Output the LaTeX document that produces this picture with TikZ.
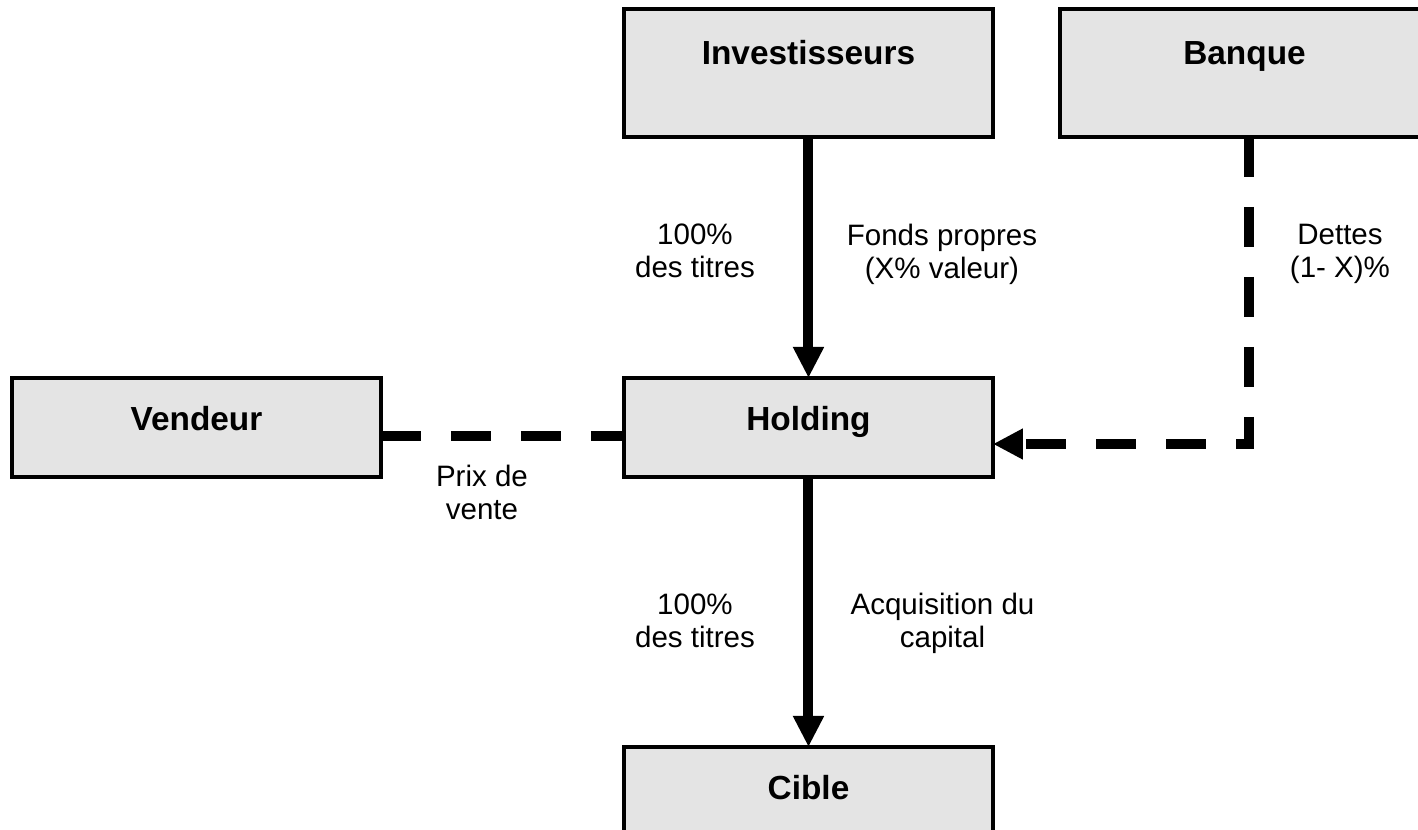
\documentclass[tikz,border=0pt]{standalone}
\usepackage{fontspec}
\setmainfont{Liberation Sans}
\usepackage{tikz}
\usetikzlibrary{arrows.meta, positioning, calc}

\definecolor{boxgray}{RGB}{228,228,228}

\begin{document}
\begin{tikzpicture}[
    every node/.style={font=\fontsize{16.8pt}{18.8pt}\selectfont},
    box/.style={
        rectangle,
        minimum width=7.38cm,
        inner ysep=0pt,
        outer sep=0pt,
        text height=1.06cm,
        text depth=0.92cm,
        text centered,
        draw=black,
        line width=1.8pt,
        fill=boxgray,
        font=\fontsize{19pt}{22pt}\selectfont\bfseries
    },
    tallbox/.style={
        box,
        text height=1.12cm,
        text depth=1.44cm
    },
    lbl/.style={
        align=center,
        anchor=base
    },
    arrow/.style={
        line width=0.2cm,
        -{Triangle[width=0.58cm,length=0.62cm]}
    },
    dashline/.style={
        line width=0.2cm,
        dash pattern=on 0.8cm off 0.6cm
    },
    dasharrow/.style={
        dashline,
        -{Triangle[width=0.58cm,length=0.6cm]}
    }
]
\useasboundingbox (-16.17,-8.05) rectangle (12.19,8.55);

% Holding in the middle
\node (holding) [box] {Holding};

% Around the holding
\node (invest) [tallbox, above=4.82cm of holding] {Investisseurs};
\node (banque) [tallbox, right=1.34cm of invest] {Banque};
\node (vendeur) [box, left=4.86cm of holding] {Vendeur};
\node (cible) [box, below=5.4cm of holding] {Cible};

% Arrows
\draw [arrow] (invest) -- (holding);
\draw [arrow] (holding) -- (cible);
\draw [dashline] ([yshift=-0.17cm]vendeur.east) -- ([yshift=-0.17cm]holding.west);
\draw [dasharrow] ([xshift=0.09cm]banque.south) |- ([yshift=-0.33cm]holding.east);

% Labels (base = last line)
\node (titresup) [lbl] at ($(holding.center)+(-2.27,2.99)$) {100\%\\des titres};
\node (fonds) [lbl] at ($(holding.center)+(2.67,2.97)$) {Fonds propres\\(X\% valeur)};
\node (dettes) [lbl] at ($(holding.center)+(10.63,2.99)$) {Dettes\\(1- X)\%};
\node (prix) [lbl] at ($(holding.center)+(-6.53,-1.85)$) {Prix de\\vente};
\node (titresinf) [lbl] at ($(holding.center)+(-2.27,-4.41)$) {100\%\\des titres};
\node (acquis) [lbl] at ($(holding.center)+(2.68,-4.41)$) {Acquisition du\\capital};

\end{tikzpicture}
\end{document}
